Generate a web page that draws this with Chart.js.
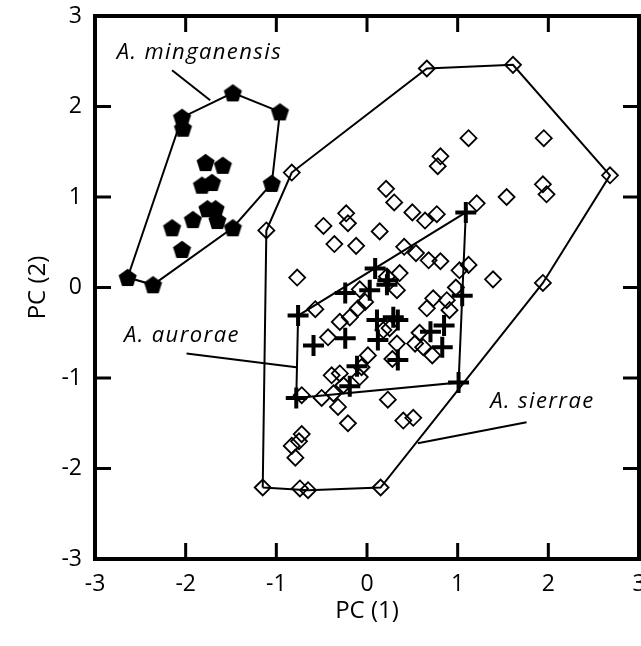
<!DOCTYPE html>
<html>
<head>
<meta charset="utf-8">
<script src="https://cdn.jsdelivr.net/npm/chart.js@4.4.1/dist/chart.umd.min.js"></script>
<style>
  html, body { margin: 0; padding: 0; background: #fff; overflow: hidden; }
  canvas { display: block; }
</style>
</head>
<body>
<canvas id="pca" width="641" height="646"></canvas>
<script>
// PC scores
const minganensisX = [-2.64, -2.36, -2.04, -2.03, -1.48, -0.96, -1.05, -1.48, -2.15, -2.04, -1.92, -1.76, -1.67, -1.65, -1.78, -1.59, -1.82, -1.71];
const minganensisY = [0.11, 0.03, 1.88, 1.76, 2.15, 1.94, 1.15, 0.66, 0.66, 0.42, 0.75, 0.87, 0.87, 0.74, 1.38, 1.35, 1.13, 1.16];

const sierraeX = [0.66, 1.61, 2.68, -0.83, -1.11, 1.12, 1.95, 0.81, 0.78, 1.94, 1.98, 1.54, 1.21, 0.21, 0.30, 0.50, 0.64, 0.77,
  -0.23, -0.21, -0.48, 0.14, -0.36, -0.12, -0.77, 0.41, 0.54, 0.68, 0.81, 1.12, 1.02, 1.39, 1.94, 0.36, 0.98,
  -0.57, -0.30, -0.43, -0.19, -0.10, -0.02, -0.08, 0.22, 0.33, 0.66, 0.73, 0.88, 0.91, 0.58, 0.53, 0.72, 0.62,
  0.33, 0.25, 0.18, 0.28, 0.01, -0.06, -0.39, -0.30, -0.08, -0.26, -0.50, -0.37, -0.32, 0.23, -0.72, 0.40, 0.51,
  -0.21, -0.72, -0.83, -0.79, -0.75, -1.15, -0.74, -0.65, 0.15];
const sierraeY = [2.42, 2.46, 1.24, 1.27, 0.63, 1.65, 1.65, 1.45, 1.34, 1.14, 1.03, 1.00, 0.93, 1.09, 0.94, 0.83, 0.74, 0.81,
  0.82, 0.71, 0.68, 0.62, 0.48, 0.46, 0.11, 0.45, 0.38, 0.30, 0.29, 0.25, 0.19, 0.09, 0.05, 0.16, 0.00,
  -0.24, -0.38, -0.55, -0.33, -0.23, -0.16, -0.02, 0.12, -0.03, -0.23, -0.12, -0.14, -0.25, -0.50, -0.62, -0.75, -0.66,
  -0.62, -0.45, -0.47, -0.79, -0.75, -0.88, -0.97, -0.95, -0.99, -1.08, -1.22, -1.17, -1.32, -1.24, -1.19, -1.47, -1.44,
  -1.50, -1.62, -1.75, -1.88, -1.70, -2.21, -2.22, -2.24, -2.21];

const auroraeX = [-0.76, -0.59, -0.24, 0.09, 0.03, 0.22, 0.23, -0.24, 0.11, 0.29, 0.34, 0.12, 0.34, -0.11, -0.19, 0.70, 0.85, 0.83, 1.05, 1.09, -0.78, 1.01];
const auroraeY = [-0.31, -0.64, -0.06, 0.21, -0.03, 0.03, 0.08, -0.56, -0.36, -0.33, -0.36, -0.58, -0.80, -0.87, -1.09, -0.49, -0.42, -0.66, -0.09, 0.83, -1.22, -1.05];

const axisTicks = [-3, -2, -1, 0, 1, 2, 3];

// species labels: text anchor and leader line, in PC units
const speciesLabels = [
  { text: 'A. minganensis', x: -2.76, y: 2.53, from: [-2.15, 2.40], to: [-1.73, 2.07] },
  { text: 'A. aurorae', x: -2.68, y: -0.60, from: [-1.99, -0.73], to: [-0.78, -0.88] },
  { text: 'A. sierrae', x: 1.36, y: -1.33, from: [1.76, -1.49], to: [0.56, -1.72] }
];

function toPoints(xs, ys) {
  return xs.map((x, i) => ({ x: x, y: ys[i] }));
}

// monotone chain, closed polygon
function hull(points) {
  const p = points.slice().sort((a, b) => a.x - b.x || a.y - b.y);
  const cross = (o, a, b) => (a.x - o.x) * (b.y - o.y) - (a.y - o.y) * (b.x - o.x);
  const lower = [];
  for (const pt of p) {
    while (lower.length >= 2 && cross(lower[lower.length - 2], lower[lower.length - 1], pt) <= 0) lower.pop();
    lower.push(pt);
  }
  const upper = [];
  for (let i = p.length - 1; i >= 0; i--) {
    const pt = p[i];
    while (upper.length >= 2 && cross(upper[upper.length - 2], upper[upper.length - 1], pt) <= 0) upper.pop();
    upper.push(pt);
  }
  upper.pop();
  lower.pop();
  const poly = lower.concat(upper);
  poly.push(poly[0]);
  return poly;
}

function pentagon(r) {
  const c = document.createElement('canvas');
  const s = Math.ceil(r * 2 + 2);
  c.width = s;
  c.height = s;
  const g = c.getContext('2d');
  g.beginPath();
  for (let i = 0; i < 5; i++) {
    const a = -Math.PI / 2 + i * 2 * Math.PI / 5;
    g.lineTo(s / 2 + r * Math.cos(a), s / 2 + r * Math.sin(a) + 0.8);
  }
  g.closePath();
  g.fillStyle = '#000';
  g.fill();
  return c;
}

const minganensis = toPoints(minganensisX, minganensisY);
const sierrae = toPoints(sierraeX, sierraeY);
const aurorae = toPoints(auroraeX, auroraeY);

const FONT = '"Open Sans", "Noto Sans", sans-serif';

function hullSet(pts) {
  return {
    type: 'line',
    data: hull(pts),
    borderColor: '#000',
    borderWidth: 2,
    pointRadius: 0,
    fill: false,
    tension: 0,
    order: 10
  };
}

const frame = {
  id: 'frame',
  afterDatasetsDraw(chart) {
    const { ctx, chartArea: a, scales: { x, y } } = chart;
    ctx.save();
    ctx.strokeStyle = '#000';
    ctx.lineWidth = 3;
    const len = 16;
    axisTicks.forEach(v => {
      const px = x.getPixelForValue(v);
      const py = y.getPixelForValue(v);
      ctx.beginPath();
      ctx.moveTo(px, a.bottom); ctx.lineTo(px, a.bottom - len);
      ctx.moveTo(px, a.top); ctx.lineTo(px, a.top + len);
      ctx.moveTo(a.left, py); ctx.lineTo(a.left + len, py);
      ctx.moveTo(a.right, py); ctx.lineTo(a.right - len, py);
      ctx.stroke();
    });
    ctx.lineWidth = 4;
    ctx.strokeRect(a.left, a.top, a.right - a.left, a.bottom - a.top);

    // species labels with leader lines
    ctx.lineWidth = 2;
    ctx.fillStyle = '#000';
    ctx.font = 'italic 22px ' + FONT;
    ctx.letterSpacing = '1.4px';
    ctx.textBaseline = 'alphabetic';
    speciesLabels.forEach(l => {
      ctx.beginPath();
      ctx.moveTo(x.getPixelForValue(l.from[0]), y.getPixelForValue(l.from[1]));
      ctx.lineTo(x.getPixelForValue(l.to[0]), y.getPixelForValue(l.to[1]));
      ctx.stroke();
      ctx.fillText(l.text, x.getPixelForValue(l.x), y.getPixelForValue(l.y));
    });
    ctx.restore();
  }
};

const tickFont = { family: FONT, size: 23 };

// let the end tick labels hang over the edge instead of shrinking the plot
function noOverhang(s) {
  s.paddingLeft = 0;
  s.paddingRight = 0;
  s.paddingTop = 0;
  s.paddingBottom = 0;
}

new Chart(document.getElementById('pca'), {
  type: 'scatter',
  data: {
    datasets: [
      hullSet(minganensis),
      hullSet(sierrae),
      hullSet(aurorae),
      {
        label: 'A. sierrae',
        data: sierrae,
        pointStyle: 'rectRot',
        pointRadius: 8,
        borderWidth: 1.8,
        borderColor: '#000',
        backgroundColor: 'rgba(0,0,0,0)',
        order: 5
      },
      {
        label: 'A. minganensis',
        data: minganensis,
        pointStyle: pentagon(9.5),
        pointRadius: 10,
        order: 3
      },
      {
        label: 'A. aurorae',
        data: aurorae,
        pointStyle: 'cross',
        pointRadius: 10.5,
        borderWidth: 4,
        borderColor: '#000',
        order: 1
      }
    ]
  },
  options: {
    responsive: false,
    animation: false,
    events: [],
    layout: { autoPadding: false, padding: { top: 16, right: 2, left: 0, bottom: 0 } },
    plugins: { legend: { display: false }, tooltip: { enabled: false } },
    scales: {
      x: {
        type: 'linear',
        min: -3,
        max: 3,
        afterBuildTicks: s => { s.ticks = axisTicks.map(v => ({ value: v })); },
        afterFit: s => { s.height = 87; noOverhang(s); },
        grid: { display: false, drawTicks: false },
        border: { display: false },
        ticks: { font: tickFont, color: '#000', padding: 12, maxRotation: 0 },
        title: { display: true, text: 'PC (1)', color: '#000', font: { family: FONT, size: 24 }, padding: { top: 0, bottom: 20 } }
      },
      y: {
        type: 'linear',
        min: -3,
        max: 3,
        afterBuildTicks: s => { s.ticks = axisTicks.map(v => ({ value: v })); },
        afterFit: s => { s.width = 95; noOverhang(s); },
        grid: { display: false, drawTicks: false },
        border: { display: false },
        ticks: { font: tickFont, color: '#000', padding: 13 },
        title: { display: true, text: 'PC (2)', color: '#000', font: { family: FONT, size: 24 }, padding: { top: 24, bottom: 0 } }
      }
    }
  },
  plugins: [frame]
});
</script>
</body>
</html>
